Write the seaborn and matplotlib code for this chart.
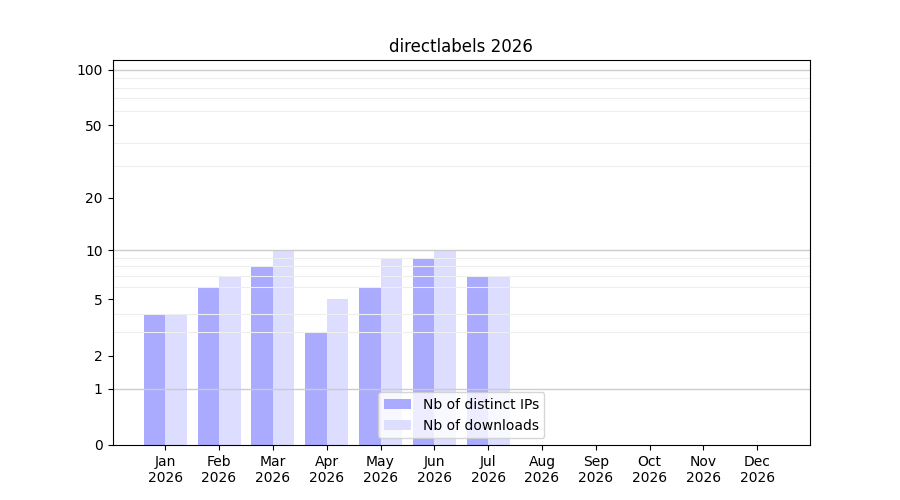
import numpy as np
import pandas as pd
import matplotlib
matplotlib.use("Agg")
import matplotlib.pyplot as plt
import seaborn as sns
from matplotlib.ticker import FixedLocator, FixedFormatter, NullFormatter

# Monthly values (Aug-Dec have no data)
months = ['Jan', 'Feb', 'Mar', 'Apr', 'May', 'Jun', 'Jul', 'Aug', 'Sep', 'Oct', 'Nov', 'Dec']
distinct_ips = [4, 6, 8, 3, 6, 9, 7, 0, 0, 0, 0, 0]
downloads = [4, 7, 10, 5, 9, 10, 7, 0, 0, 0, 0, 0]
year = 2026

y_ticks = [0, 1, 2, 5, 10, 20, 50, 100]
y_minor = [2, 3, 4, 5, 6, 7, 8, 9, 20, 30, 40, 50, 60, 70, 80, 90]

labels = [f"{m}\n{year}" for m in months]
df = pd.DataFrame({
    'month': labels * 2,
    'count': distinct_ips + downloads,
    'series': ['Nb of distinct IPs'] * 12 + ['Nb of downloads'] * 12,
})

fig, ax = plt.subplots(figsize=(9, 5), dpi=100)
sns.barplot(data=df, x='month', y='count', hue='series', ax=ax,
            palette=['#aaaaff', '#ddddff'], saturation=1, width=0.8,
            order=labels, errorbar=None)

# log(1 + x) scale
ax.set_yscale('function', functions=(lambda v: np.log10(1 + np.clip(v, 0, None)),
                                     lambda v: 10 ** v - 1))
ax.set_ylim(0, 113)
ax.set_xlim(-0.98, 11.98)
ax.yaxis.set_major_locator(FixedLocator(y_ticks))
ax.yaxis.set_major_formatter(FixedFormatter([str(t) for t in y_ticks]))
ax.yaxis.set_minor_locator(FixedLocator(y_minor))
ax.yaxis.set_minor_formatter(NullFormatter())
ax.tick_params(axis='y', which='minor', length=0, width=0)

ax.set_axisbelow(False)
for v in [1, 10, 100]:
    ax.axhline(v, color='#cccccc', lw=1, zorder=3)
ax.grid(axis='y', which='minor', color='#eeeeee', lw=0.8)
for s in ax.spines.values():
    s.set_zorder(5)

ax.set_xlabel('')
ax.set_ylabel('')
ax.set_title(f'directlabels {year}')
ax.legend(loc='lower center', title=None)

plt.savefig('out.png', dpi=100)
